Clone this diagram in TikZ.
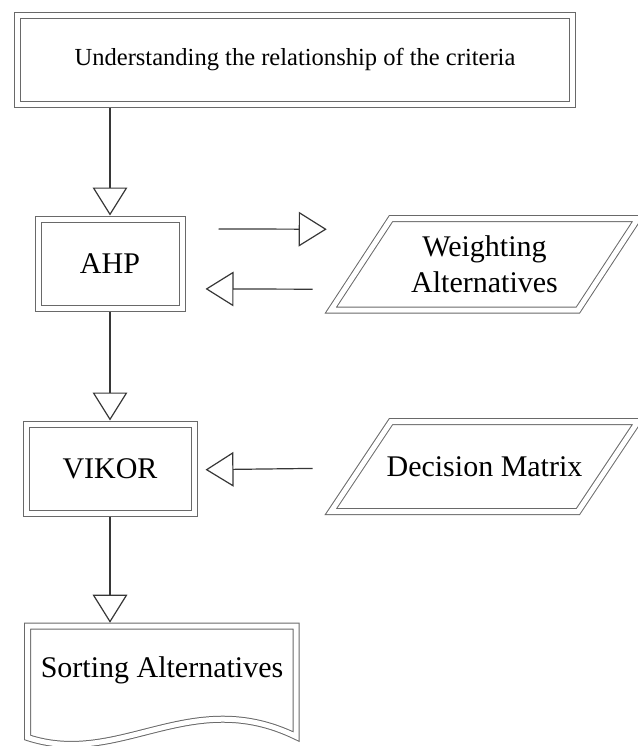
\documentclass[tikz,border=0pt]{standalone}
\usepackage{fontspec}
\setmainfont{Liberation Serif}
\usepackage{tikz}
\usetikzlibrary{arrows.meta,positioning}
\definecolor{boxgray}{RGB}{105,105,105}
\definecolor{arrowgray}{RGB}{55,55,55}

\begin{document}
\begin{tikzpicture}[x=0.75pt,y=-0.75pt,
  boxline/.style={draw=boxgray,line width=0.75pt,double,double distance=3.75pt},
  box/.style ={boxline,minimum height=66.75pt,inner sep=0pt,align=center,
               font=\fontsize{22.5}{27}\selectfont},
  datab/.style={inner sep=0pt,align=center,minimum width=185.25pt,minimum height=68pt,
               font=\fontsize{22.5}{27}\selectfont},
  arr/.style ={-{Triangle[open,length=21pt,width=26pt]},draw=arrowgray,line width=0.9pt},
]
\useasboundingbox (0,0) rectangle (638,746);

\node[box,minimum width=416.25pt,font=\fontsize{18.4}{22}\selectfont] (top) at (295,59.5)
  {Understanding the relationship of the criteria};
\node[box,minimum width=108pt] (ahp)   at (110,263.5) {AHP};
\node[box,minimum width=126pt] (vikor) at (110,468.5) {VIKOR};

% data parallelograms
\draw[boxline] (331,310) -- (391,218.5) -- (638,218.5) -- (578,310) -- cycle;
\node[datab] (weight) at (484.5,264) {Weighting\\Alternatives};
\draw[boxline] (331,511.5) -- (391,421.5) -- (638,421.5) -- (578,511.5) -- cycle;
\node[datab] (dec) at (484.5,466.5) {Decision Matrix};

% document shape with wavy bottom
\draw[boxline] (27.5,626) -- (27.5,737.5) .. controls (120,768) and (190,685) .. (296,736.5)
  -- (296,626) -- cycle;
\node[minimum width=201.4pt,minimum height=66pt,inner sep=0pt,
      font=\fontsize{22.5}{27}\selectfont] (sort) at (162,670) {Sorting Alternatives};

\draw[arr,shorten <=2.25pt,shorten >=2.25pt] (ahp.north |- top.south) -- (ahp.north);
\draw[arr,shorten <=2.25pt,shorten >=2.25pt] (ahp.south) -- (vikor.north);
\draw[arr,shorten <=2.25pt,shorten >=2.25pt] (vikor.south) -- (vikor.south |- sort.north);
\draw[arr,shorten <=27pt,shorten >=25.5pt] ([yshift=26pt]ahp.east) -- ([yshift=26pt]weight.west);
\draw[arr,shorten <=36pt,shorten >=17.25pt] ([yshift=-19pt]weight.west) -- ([yshift=-19pt]ahp.east);
\draw[arr,shorten <=36pt,shorten >=8.25pt] ([yshift=-1pt]dec.west) -- ([yshift=-1pt]vikor.east);
\end{tikzpicture}
\end{document}
